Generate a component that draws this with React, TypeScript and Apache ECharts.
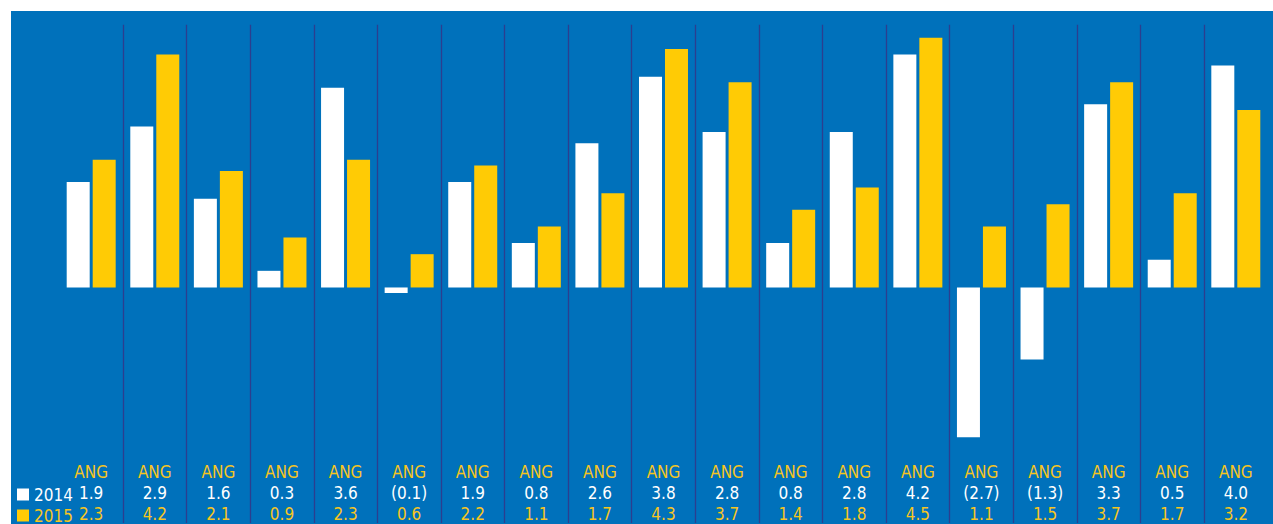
import React, { useEffect, useRef } from "react";
import * as echarts from "echarts";

const categories: string[] = [
  "ANG", "ANG", "ANG", "ANG", "ANG", "ANG", "ANG", "ANG", "ANG", "ANG",
  "ANG", "ANG", "ANG", "ANG", "ANG", "ANG", "ANG", "ANG", "ANG",
];
const seriesNames: string[] = ["2014", "2015"];
const values2014: number[] = [1.9, 2.9, 1.6, 0.3, 3.6, -0.1, 1.9, 0.8, 2.6, 3.8, 2.8, 0.8, 2.8, 4.2, -2.7, -1.3, 3.3, 0.5, 4.0];
const values2015: number[] = [2.3, 4.2, 2.1, 0.9, 2.3, 0.6, 2.2, 1.1, 1.7, 4.3, 3.7, 1.4, 1.8, 4.5, 1.1, 1.5, 3.7, 1.7, 3.2];

const BLUE = "#0071BB";
const NAVY = "#2C3E8F";
const YELLOW = "#FFCB05";
const YELLOW_TEXT = "#F7C51E";
const FONT = "'Liberation Sans Narrow', 'Arial Narrow', 'Noto Sans Condensed', 'DejaVu Sans Condensed', sans-serif";
const FS = 17;

const fmt = (v: number) => (v < 0 ? `(${Math.abs(v).toFixed(1)})` : v.toFixed(1));

export default function App() {
  const ref = useRef<HTMLDivElement>(null);

  useEffect(() => {
    document.body.style.margin = "0";
    if (!ref.current) return;
    const chart = echarts.init(ref.current, undefined, { renderer: "svg" });
    const legendBase = {
      orient: "horizontal",
      left: 6,
      padding: 0,
      itemWidth: 12,
      itemHeight: 12,
      itemGap: 10,
      icon: "rect",
      selectedMode: false,
    };
    chart.setOption({
      animation: false,
      backgroundColor: BLUE,
      grid: { left: 48.4, right: 5.4, top: 13.7, bottom: 0, containLabel: false },
      legend: [
        {
          ...legendBase,
          top: 475,
          textStyle: { fontFamily: FONT, fontSize: FS, color: "#FFFFFF" },
          data: [seriesNames[0]],
        },
        {
          ...legendBase,
          top: 496,
          textStyle: { fontFamily: FONT, fontSize: FS, color: YELLOW_TEXT },
          data: [seriesNames[1]],
        },
      ],
      xAxis: {
        type: "category",
        data: categories,
        offset: -62,
        axisLine: { show: false },
        axisTick: { show: false },
        splitLine: {
          show: true,
          interval: 0,
          showMinLine: false,
          showMaxLine: false,
          lineStyle: { color: NAVY, width: 1.3 },
        },
        axisLabel: {
          interval: 0,
          margin: 0,
          fontFamily: FONT,
          lineHeight: 21,
          formatter: (_v: string, i: number) =>
            `{a|${categories[i]}}\n{w|${fmt(values2014[i])}}\n{y|${fmt(values2015[i])}}`,
          rich: {
            a: { color: YELLOW_TEXT, fontFamily: FONT, fontSize: FS, lineHeight: 21 },
            w: { color: "#FFFFFF", fontFamily: FONT, fontSize: FS, lineHeight: 21 },
            y: { color: YELLOW_TEXT, fontFamily: FONT, fontSize: FS, lineHeight: 21 },
          },
        },
      },
      yAxis: {
        type: "value",
        min: -4.245,
        max: 4.736,
        show: false,
      },
      series: [
        {
          name: seriesNames[0],
          type: "bar",
          data: values2014,
          barWidth: 23,
          barGap: "13%",
          itemStyle: { color: "#FFFFFF" },
        },
        {
          name: seriesNames[1],
          type: "bar",
          data: values2015,
          barWidth: 23,
          itemStyle: { color: YELLOW },
        },
      ],
    });
    return () => chart.dispose();
  }, []);

  return (
    <div style={{ position: "relative", width: 1273, height: 524, background: "#FFFFFF", overflow: "hidden" }}>
      <div ref={ref} style={{ position: "absolute", left: 11, top: 11, width: 1262, height: 513 }} />
    </div>
  );
}
